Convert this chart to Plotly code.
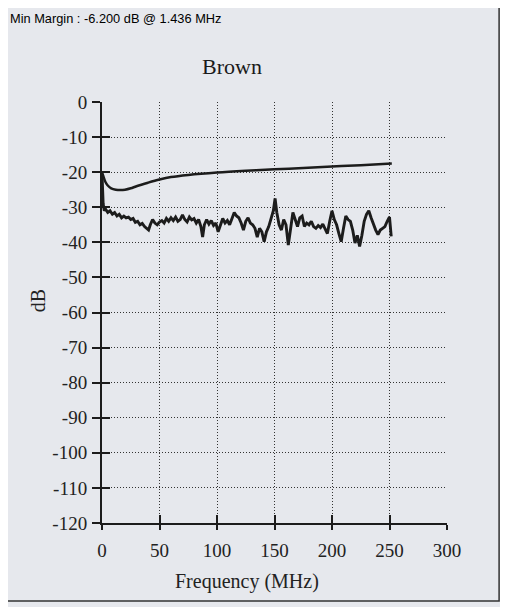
import plotly.graph_objects as go

# Upper (smooth) curve
freq_upper = [0, 1, 3, 5, 8, 12, 16, 20, 25, 30, 40, 50, 60, 75, 100, 125, 150, 175, 200, 225, 252]
db_upper = [-20, -21, -22.8, -23.8, -24.6, -25, -25.1, -25, -24.6, -24, -23, -22.1, -21.4, -20.8,
            -20.1, -19.6, -19.2, -18.8, -18.4, -18, -17.5]

# Lower (noisy) curve
freq_lower = [0, 0.5, 1, 2, 3, 5, 7, 9, 11, 13, 15, 17, 19, 21, 23, 25, 27, 29, 31, 33, 35, 37, 39,
              40.5, 42, 44, 46, 48, 50, 52, 54, 56, 58, 60, 62, 64, 66, 68, 70, 72, 74, 76, 78, 80,
              82, 84, 86, 87.5, 89, 91, 93, 95, 97, 99, 101, 103, 105, 107, 109, 111, 113, 115, 117,
              119, 121, 123, 125, 127, 129, 131, 133, 135, 137, 139, 141, 143, 145, 147, 149, 150.5,
              152, 154, 156, 158, 160, 162, 164, 166, 168, 170, 172, 174, 176, 178, 180, 182, 184,
              186, 188, 190, 192, 194, 196, 198, 200, 202, 204, 206, 208, 210, 212, 214, 216, 218,
              220, 222, 224, 226, 228, 230, 232, 234, 236, 238, 240, 242, 244, 246, 248, 250, 251.5]
db_lower = [-20.5, -24, -29, -31, -30.5, -31.5, -31, -32, -31.5, -32.5, -32, -33, -32.5, -33, -32.8,
            -33.5, -33.2, -34.3, -34, -35, -34.6, -35.5, -36, -36.5, -35, -33.5, -34.5, -35, -34.2,
            -33.8, -34.5, -33.2, -34, -33, -33.8, -32.8, -34, -33.5, -32.2, -33.5, -34.2, -32.8,
            -33.6, -33.2, -34.5, -33.5, -35.5, -38.5, -35, -33.5, -34.8, -33.8, -35.2, -34.5, -37,
            -35, -33.2, -34.5, -33.8, -35, -33.5, -31.5, -32.5, -33, -34.5, -36.5, -34, -33, -34.5,
            -35, -36, -38.5, -36, -37, -39.8, -37, -35.5, -33, -31, -27.5, -31.5, -35, -36.5, -33.5,
            -35, -40.8, -36, -31.5, -33.5, -35.5, -33, -32.5, -35.5, -34.5, -35, -34, -35.5, -36,
            -35.2, -35.8, -34.8, -36, -37.5, -34, -31, -33.5, -35, -37.5, -39.8, -36, -32.5, -33.5,
            -34, -36.5, -40.2, -38, -41.2, -38, -34, -32, -31, -33, -35, -36.5, -37.8, -36.5, -36,
            -35.5, -34, -32.8, -38.3]

x_ticks = [0, 50, 100, 150, 200, 250, 300]
y_ticks = [0, -10, -20, -30, -40, -50, -60, -70, -80, -90, -100, -110, -120]

title_text = "Brown"
header_text = "Min Margin : -6.200 dB @ 1.436 MHz"
x_label = "Frequency (MHz)"
y_label = "dB"

bg = "#e6e8ed"
ink = "#1c1c1c"
serif = "Liberation Serif"

fig = go.Figure()
fig.add_trace(go.Scatter(x=freq_upper, y=db_upper, mode="lines",
                         line=dict(color=ink, width=2.5, shape="spline"), showlegend=False))
fig.add_trace(go.Scatter(x=freq_lower, y=db_lower, mode="lines",
                         line=dict(color=ink, width=2.9), showlegend=False))

axis_common = dict(showgrid=True, gridcolor="#333", griddash="1px,2px", gridwidth=1,
                   zeroline=False, linecolor=ink, linewidth=2, automargin=False,
                   tickfont=dict(family=serif, size=19, color="#222"))

fig.update_layout(
    width=508, height=607,
    margin=dict(l=94, r=69, t=94, b=92, autoexpand=False),
    paper_bgcolor=bg, plot_bgcolor=bg,
    xaxis=dict(range=[0, 300], tickvals=x_ticks, ticktext=[str(v) for v in x_ticks],
               showline=True, ticks="outside", ticklen=5, tickwidth=2, tickcolor=ink,
               ticklabelstandoff=4, **axis_common),
    yaxis=dict(range=[-120, 0], tickvals=y_ticks, ticktext=[str(v) for v in y_ticks],
               showline=True, ticks="outside", ticklen=8, tickwidth=2, tickcolor=ink,
               ticklabelstandoff=1, **axis_common),
    xaxis2=dict(range=[0, 300], tickvals=x_ticks, overlaying="x", anchor="y", side="bottom",
                showticklabels=False, showgrid=False, zeroline=False, showline=False,
                automargin=False, ticks="inside", ticklen=8, tickwidth=2, tickcolor=ink),
    yaxis2=dict(range=[-120, 0], tickvals=y_ticks, overlaying="y", anchor="x", side="left",
                showticklabels=False, showgrid=False, zeroline=False, showline=False,
                automargin=False, ticks="inside", ticklen=8, tickwidth=2, tickcolor=ink),
    showlegend=False,
)
# invisible trace to activate overlay axes
fig.add_trace(go.Scatter(x=[None], y=[None], xaxis="x2", yaxis="y2", showlegend=False,
                         hoverinfo="skip"))

fig.add_shape(type="rect", xref="paper", yref="paper", x0=-0.281, x1=1.151, y0=-0.185, y1=1.235,
              line=dict(color="#333", width=1.5), fillcolor="rgba(0,0,0,0)", layer="below")

fig.add_annotation(text=header_text, xref="paper", yref="paper", x=-0.2725, y=1.1995,
                   xanchor="left", yanchor="middle", showarrow=False,
                   font=dict(family="Liberation Sans", size=12.8, color="#000"))
fig.add_annotation(text=title_text, xref="paper", yref="paper", x=0.377, y=1.085,
                   xanchor="center", yanchor="middle", showarrow=False,
                   font=dict(family=serif, size=22, color="#1a1a1a"))
fig.add_annotation(text=x_label, xref="paper", yref="paper", x=0.42, y=-0.140,
                   xanchor="center", yanchor="middle", showarrow=False,
                   font=dict(family=serif, size=20, color="#222"))
fig.add_annotation(text=y_label, xref="paper", yref="paper", x=-0.1855, y=0.527,
                   xanchor="center", yanchor="middle", showarrow=False, textangle=-90,
                   font=dict(family=serif, size=20, color="#222"))

fig.write_html("out.html")
